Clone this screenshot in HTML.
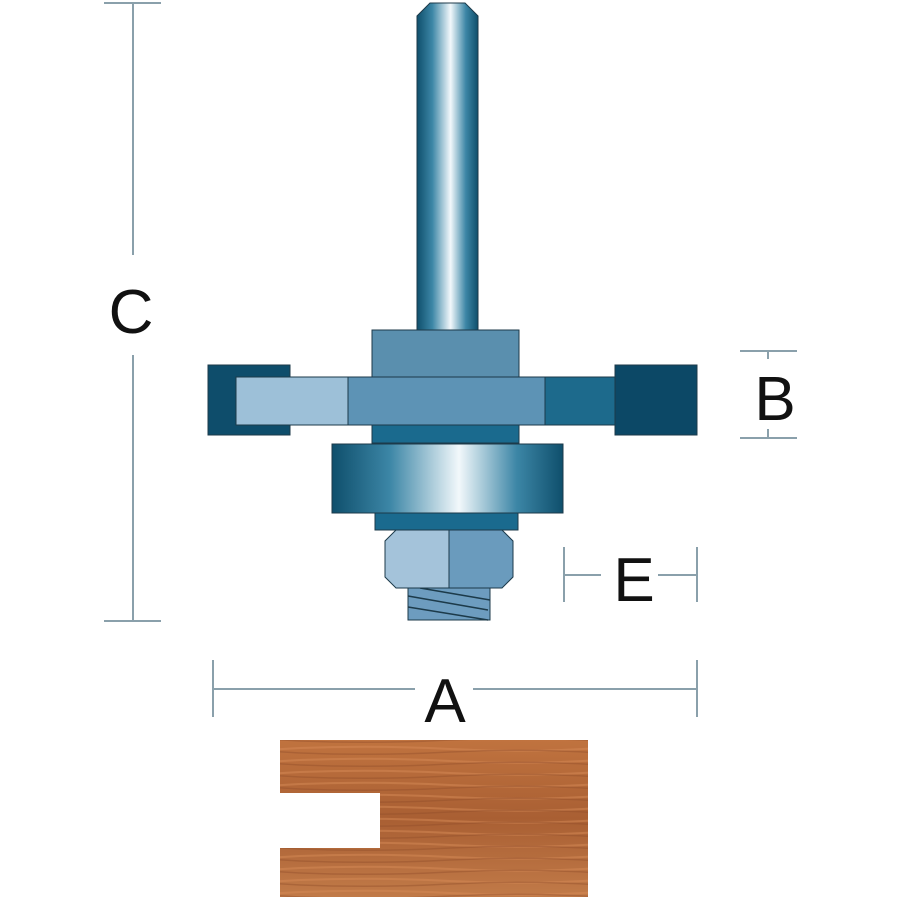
<!DOCTYPE html>
<html><head><style>
body{margin:0;background:#fff;}
</style></head><body>
<svg width="900" height="900" viewBox="0 0 900 900" xmlns="http://www.w3.org/2000/svg">
<defs>
<linearGradient id="cyl" x1="0" x2="1" y1="0" y2="0">
<stop offset="0" stop-color="#0f4f6c"/><stop offset="0.25" stop-color="#3c86a6"/>
<stop offset="0.55" stop-color="#f2f8fb"/><stop offset="0.8" stop-color="#3c86a6"/>
<stop offset="1" stop-color="#0f4f6c"/></linearGradient>
<linearGradient id="wood" x1="0" x2="0" y1="0" y2="1">
<stop offset="0" stop-color="#c0733f"/><stop offset="0.5" stop-color="#a95f33"/><stop offset="1" stop-color="#c17a48"/></linearGradient>
<pattern id="grain" width="300" height="12" patternUnits="userSpaceOnUse">
<path d="M0 4 Q75 1 150 5 T300 4" stroke="#d58a55" stroke-width="2" fill="none" opacity="0.5"/>
<path d="M0 9 Q75 12 150 8 T300 9" stroke="#8e4c28" stroke-width="1.5" fill="none" opacity="0.4"/>
</pattern>
</defs>
<g stroke="#8aa0ab" stroke-width="2" fill="none">
<line x1="104" y1="3" x2="161" y2="3"/><line x1="104" y1="621" x2="161" y2="621"/>
<line x1="133" y1="3" x2="133" y2="255"/><line x1="133" y1="355" x2="133" y2="621"/>
<line x1="740" y1="351" x2="797" y2="351"/><line x1="768" y1="351" x2="768" y2="359"/>
<line x1="740" y1="438" x2="797" y2="438"/><line x1="768" y1="429" x2="768" y2="438"/>
<line x1="564" y1="547" x2="564" y2="602"/><line x1="697" y1="547" x2="697" y2="602"/>
<line x1="564" y1="575" x2="601" y2="575"/><line x1="658" y1="575" x2="697" y2="575"/>
<line x1="213" y1="660" x2="213" y2="717"/><line x1="697" y1="660" x2="697" y2="717"/>
<line x1="213" y1="689" x2="415" y2="689"/><line x1="473" y1="689" x2="697" y2="689"/>
</g>
<g font-family="Liberation Sans, sans-serif" fill="#111" text-anchor="middle">
<text x="131" y="333" font-size="62">C</text>
<text x="775" y="420" font-size="62">B</text>
<text x="634" y="601" font-size="62">E</text>
<text x="445" y="722" font-size="62">A</text>
</g>
<g stroke="#1c3a4a" stroke-width="1">
<path d="M430 3 L465 3 L478 16 L478 331 L417 331 L417 16 Z" fill="url(#cyl)"/>
<rect x="372" y="330" width="147" height="47" fill="#5a8fae"/>
<path d="M208 365 H290 V377 H236 V425 H290 V435 H208 Z" fill="#0e4d6b"/>
<rect x="236" y="377" width="112" height="48" fill="#9dc0d8"/>
<rect x="348" y="377" width="197" height="48" fill="#5d93b5"/>
<rect x="545" y="377" width="70" height="48" fill="#1d6a8c"/>
<rect x="615" y="365" width="82" height="70" fill="#0c4866"/>
<rect x="372" y="425" width="147" height="18" fill="#1a6a8e"/>
<rect x="332" y="444" width="231" height="69" fill="url(#cyl)"/>
<rect x="375" y="513" width="143" height="17" fill="#1a6a8e"/>
<rect x="408" y="588" width="82" height="32" fill="#6d9cbf"/>
<path d="M408 596 L488 610 M408 607 L488 620 M420 588 L490 600" stroke="#1c3a4a" stroke-width="1.5"/>
<path d="M396 530 H449 V588 H396 L385 577 V541 Z" fill="#a4c3da"/>
<path d="M449 530 H502 L513 541 V577 L502 588 H449 Z" fill="#6a9bbd"/>
</g>
<path d="M280 740 H588 V897 H280 V848 H380 V793 H280 Z" fill="url(#wood)"/>
<path d="M280 740 H588 V897 H280 V848 H380 V793 H280 Z" fill="url(#grain)"/>
</svg>
</body></html>
